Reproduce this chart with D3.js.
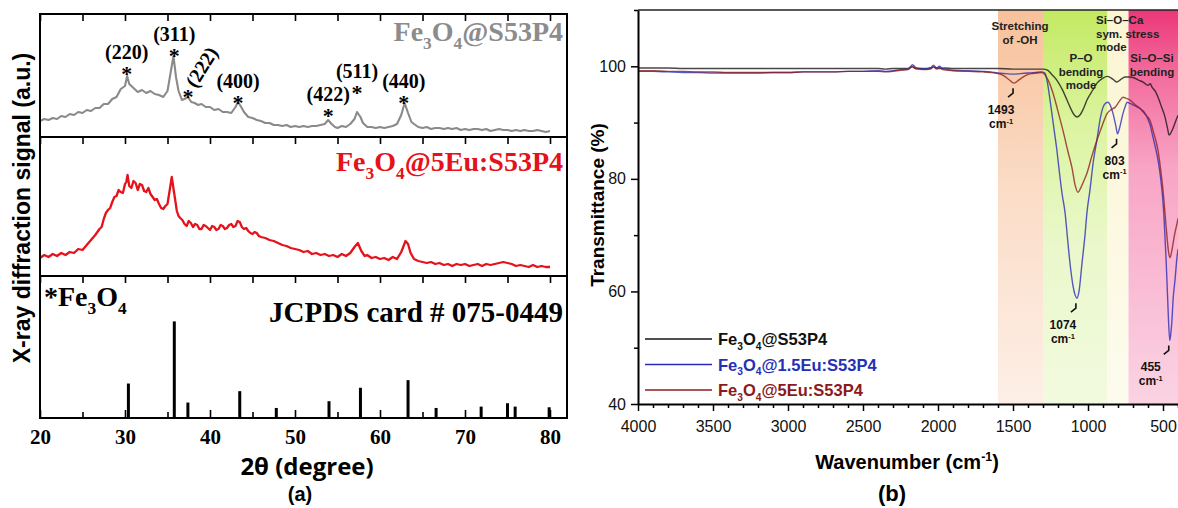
<!DOCTYPE html>
<html><head><meta charset="utf-8">
<script src="https://cdn.jsdelivr.net/npm/d3@7"></script>
<style>body{margin:0;background:#fff}svg{display:block}</style>
</head><body>
<svg id="c" width="1178" height="508"></svg>
<script>
// ---------------- DATA ----------------
// (a) XRD, 2theta (deg) vs intensity (a.u.)
const xrdTicks = [20, 30, 40, 50, 60, 70, 80];
const graySample = [[20,16],[20.5,18],[21,17],[21.5,19],[22,18],[22.5,21],[23,20],[23.5,23],[24,22],[24.5,25],[25,24],[25.5,27],[26,26],[26.5,29],[27,29],[27.5,33],[28,33],[28.5,38],[29,40],[29.5,48],[30,51],[30.25,61],[30.5,53],[31,49],[31.5,45],[32,47],[32.5,44],[33,46],[33.5,43],[34,42],[34.5,40],[35,46],[35.4,66],[35.7,81],[36,60],[36.3,46],[36.7,37],[37,38],[37.4,40],[37.8,35],[38.2,34],[38.6,32],[39,33],[39.5,30],[40,30],[40.5,27],[41,28],[41.5,25],[42,25],[42.5,24],[43,30],[43.3,35],[43.6,31],[44,25],[44.5,20],[45,19],[45.5,17],[46,16],[46.5,14],[47,14],[47.5,12],[48,12],[48.5,11],[49,12],[49.5,10],[50,11],[50.5,10],[51,11],[51.5,10],[52,11],[52.5,11],[53,12],[53.5,13],[53.9,17],[54.3,13],[54.7,10],[55,9],[55.5,11],[56,10],[56.5,13],[57,18],[57.3,25],[57.7,20],[58,14],[58.5,10],[59,10],[59.5,9],[60,10],[60.5,9],[61,10],[61.5,11],[62,13],[62.5,22],[62.9,34],[63.3,24],[63.7,15],[64,13],[64.5,10],[65,9],[65.5,10],[66,8],[66.5,9],[67,9],[67.5,8],[68,9],[68.5,8],[69,9],[69.5,7],[70,8],[70.5,7],[71,8],[71.5,8],[72,7],[72.5,8],[73,6],[73.5,7],[74,8],[74.5,7],[75,7],[75.5,6],[76,7],[76.5,6],[77,7],[77.5,6],[78,6],[78.5,7],[79,6],[79.5,5],[80,6]];
const redSample = [[20,18],[20.5,21],[21,19],[21.5,22],[22,20],[22.5,23],[23,21],[23.5,24],[24,23],[24.5,27],[25,26],[25.5,31],[26,36],[26.5,41],[27,47],[27.25,49],[27.5,57],[27.75,63],[28,66],[28.25,68],[28.5,74],[28.75,79],[29,80],[29.25,86],[29.5,84],[29.75,83],[30,92],[30.15,94],[30.3,101],[30.5,90],[30.75,88],[31,95],[31.25,93],[31.5,86],[31.75,92],[32,91],[32.25,85],[32.5,84],[32.75,88],[33,82],[33.25,79],[33.5,76],[33.75,77],[34,72],[34.25,68],[34.5,67],[34.75,70],[35,72],[35.3,88],[35.5,99],[35.8,82],[36.1,65],[36.3,60],[36.5,58],[36.75,56],[37,52],[37.25,50],[37.5,55],[37.75,53],[38,49],[38.25,52],[38.5,51],[38.75,47],[39,47],[39.25,51],[39.5,50],[39.75,48],[40,46],[40.25,50],[40.5,49],[40.75,46],[41,47],[41.25,51],[41.5,50],[41.75,47],[42,48],[42.25,51],[42.5,52],[42.75,49],[43,50],[43.25,55],[43.5,54],[43.75,49],[44,47],[44.25,48],[44.5,45],[44.75,43],[45,42],[45.25,44],[45.5,43],[45.75,40],[46,39],[46.5,38],[47,36],[47.5,35],[48,33],[48.5,31],[49,30],[49.5,28],[50,27],[50.5,26],[51,24],[51.5,25],[52,22],[52.5,23],[53,21],[53.5,22],[54,20],[54.5,21],[55,19],[55.5,22],[56,20],[56.5,23],[57,29],[57.4,33],[57.8,25],[58.2,20],[58.5,21],[59,18],[59.5,19],[60,17],[60.5,18],[61,16],[61.5,19],[62,17],[62.5,24],[63,35],[63.3,32],[63.6,23],[64,17],[64.5,15],[65,14],[65.5,13],[66,14],[66.5,12],[67,13],[67.5,11],[68,12],[68.5,10],[69,12],[69.5,11],[70,12],[70.5,10],[71,11],[71.5,12],[72,10],[72.5,12],[73,11],[73.5,12],[74,13],[74.5,14],[75,13],[75.5,12],[76,10],[76.5,11],[77,10],[77.5,9],[78,11],[78.5,9],[79,10],[79.5,9],[80,9]];
const jcpdsAngles = [30.4, 35.8, 37.4, 43.5, 47.8, 54.0, 57.7, 63.3, 66.6, 71.9, 75.0, 75.9, 79.9];
const jcpdsIntensity = [35.7, 100, 16, 27.8, 10.4, 17.4, 31.3, 39.2, 10.4, 11.8, 15.3, 11.8, 11.1];
const peakHkl = ['(220)', '(311)', '(222)', '(400)', '(422)', '(511)', '(440)'];
const peakAngle = [30.2, 35.8, 37.4, 43.3, 53.9, 57.3, 62.8];
const peakStarLevel = [69, 87, 46, 40, 27, 50, 40];

// (b) FTIR, wavenumber (cm-1) vs transmittance (%)
const irWaveTicks = [4000, 3500, 3000, 2500, 2000, 1500, 1000, 500];
const irTransTicks = [40, 60, 80, 100];
const irS53P4 = [[4000,99.7],[3900,99.7],[3800,99.7],[3700,99.6],[3600,99.6],[3500,99.6],[3400,99.6],[3300,99.6],[3200,99.6],[3100,99.6],[3000,99.6],[2900,99.6],[2800,99.6],[2700,99.6],[2600,99.6],[2500,99.6],[2400,99.6],[2350,99.5],[2300,99.6],[2200,99.6],[2170,99.9],[2150,99.6],[2100,99.6],[2050,99.7],[2030,99.9],[2000,99.6],[1950,99.7],[1900,99.6],[1800,99.6],[1700,99.6],[1600,99.6],[1500,99.5],[1400,99.5],[1300,99.5],[1270,99.3],[1240,98.5],[1207,97.5],[1170,95.8],[1140,94],[1110,92.2],[1090,91.3],[1073,91],[1055,91.3],[1030,92.5],[1007,94],[970,95.7],[940,97],[900,97.9],[873,98.2],[850,98],[830,97.6],[807,97.2],[785,97.6],[753,98.1],[720,98.1],[700,98],[660,97.5],[633,97.2],[600,96.6],[585,96.9],[573,96.3],[550,95.5],[533,94.5],[510,92.8],[487,91],[470,89],[460,87.8],[447,88.2],[433,89],[415,90.3],[400,91.3]];
const ir15Eu = [[4000,99.1],[3900,99.1],[3800,99.0],[3700,98.9],[3600,98.9],[3500,98.8],[3400,98.8],[3300,98.8],[3200,98.8],[3100,98.9],[3000,98.9],[2900,99.0],[2800,99.0],[2700,99.0],[2600,99.1],[2500,99.1],[2400,99.2],[2350,99.1],[2300,99.2],[2250,99.4],[2200,99.5],[2170,100.3],[2150,99.8],[2120,99.6],[2080,99.5],[2050,99.7],[2030,100.2],[2010,99.7],[1990,100.0],[1970,99.6],[1900,99.3],[1800,99.2],[1700,99.1],[1650,99.0],[1600,98.8],[1550,98.7],[1500,98.6],[1450,98.7],[1400,98.8],[1350,98.9],[1310,99.0],[1287,98.8],[1270,97],[1253,94],[1230,89.5],[1207,85],[1190,81],[1173,77.4],[1153,74],[1135,69],[1120,65],[1100,61],[1085,59.3],[1074,58.8],[1060,60],[1040,65],[1020,70],[1007,74],[987,78],[965,83],[940,87],[920,90.5],[900,92.7],[880,93.5],[867,93.6],[850,93],[833,91.6],[815,89.5],[803,88],[790,89],[767,91.6],[750,93],[740,93.6],[720,93.4],[690,93],[653,92.5],[630,92],[607,91],[585,89.5],[567,87.4],[550,85.5],[533,83.3],[520,81],[507,78],[495,74],[487,69.7],[480,66],[473,61.5],[465,56],[455,51.3],[448,52.5],[440,55],[433,58.5],[420,62],[407,66],[400,67.5]];
const ir5Eu = [[4000,99.2],[3900,99.2],[3800,99.1],[3700,99.1],[3600,99.0],[3500,99.0],[3400,98.9],[3300,98.9],[3200,98.9],[3100,98.9],[3000,98.9],[2900,99.0],[2800,99.0],[2700,99.0],[2600,99.1],[2500,99.1],[2400,99.1],[2350,99.0],[2300,99.1],[2250,99.3],[2200,99.4],[2170,100.0],[2150,99.6],[2100,99.4],[2050,99.5],[2030,99.9],[2010,99.5],[1990,99.8],[1970,99.4],[1900,99.2],[1800,99.1],[1700,99.0],[1650,98.9],[1600,98.7],[1560,98.3],[1530,97.7],[1493,97.0],[1460,97.6],[1420,98.3],[1380,98.7],[1340,98.8],[1310,98.9],[1290,98.6],[1265,97.5],[1233,95.2],[1200,92],[1167,88.6],[1135,85],[1107,82],[1085,78.8],[1067,77.6],[1050,78.3],[1030,79.5],[1007,81],[975,84],[940,86.9],[905,89.5],[873,91.6],[845,92.3],[820,92.7],[790,93.8],[767,94.5],[745,94.3],[720,94],[690,93.3],[653,92.5],[620,91.5],[587,90.4],[560,88],[533,85],[515,81.5],[500,78],[487,74],[473,69.6],[463,67],[453,66],[443,67],[433,68.5],[420,70.5],[407,72],[400,73]];
const bandEdges = [1600, 1300, 870, 730, 400];
const bandText = [['Stretching', 'of -OH'], ['P–O', 'bending', 'mode'], ['Si–O–Ca', 'sym. stress', 'mode'], ['Si–O–Si', 'bending']];
const irPeakWave = [1493, 1074, 803, 455];
const irPeakTrans = [97.0, 58.8, 88, 51.3];

// ---------------- DRAW ----------------
const svg = d3.select('#c');
const SERIF = '"Liberation Serif","Times New Roman",serif';
const SANS = '"Liberation Sans",Arial,sans-serif';
const OPEN = '"Open Sans","Liberation Sans",sans-serif';

function rich(g, x, y, parts, o) {
  const t = g.append('text').attr('x', x).attr('y', y)
    .attr('font-family', o.family).attr('font-size', o.size)
    .attr('font-weight', o.weight || 'bold').attr('fill', o.fill || '#000')
    .attr('text-anchor', o.anchor || 'start');
  if (o.transform) t.attr('transform', o.transform);
  let shift = 0;
  parts.forEach(p => {
    const s = Array.isArray(p) ? p[0] : p, kind = Array.isArray(p) ? p[1] : null;
    const ts = t.append('tspan').text(s);
    let target = 0, fs = o.size;
    if (kind === 'sub') { target = o.size * 0.28; fs = o.size * 0.62; }
    if (kind === 'sup') { target = -o.size * 0.38; fs = o.size * 0.62; }
    ts.attr('font-size', fs);
    if (target !== shift) { ts.attr('dy', target - shift); shift = target; }
  });
  return t;
}

// ===== Panel (a) =====
const ga = svg.append('g');
const xX = d3.scaleLinear().domain([20, 82]).range([40, 567]);
const panels = [{t: 14, b: 137}, {t: 137, b: 276}, {t: 276, b: 418}];
const yTop = d3.scaleLinear().domain([0, 123]).range([panels[0].b, panels[0].t]);
const yMid = d3.scaleLinear().domain([0, 139]).range([panels[1].b, panels[1].t]);
const yBot = d3.scaleLinear().domain([0, 147]).range([panels[2].b, panels[2].t]);

ga.append('path').datum(graySample)
  .attr('d', d3.line().x(d => xX(d[0])).y(d => yTop(d[1])))
  .attr('fill', 'none').attr('stroke', '#8a8a8a').attr('stroke-width', 2.1).attr('stroke-linejoin', 'round');
ga.append('path').datum(redSample)
  .attr('d', d3.line().x(d => xX(d[0])).y(d => yMid(d[1])))
  .attr('fill', 'none').attr('stroke', '#e5121b').attr('stroke-width', 2.3).attr('stroke-linejoin', 'round');
ga.selectAll('line.bar').data(jcpdsAngles).enter().append('line')
  .attr('x1', d => xX(d)).attr('x2', d => xX(d))
  .attr('y1', yBot(0)).attr('y2', (d, i) => yBot(jcpdsIntensity[i]))
  .attr('stroke', '#000').attr('stroke-width', 3);

// ticks at top of each panel (inward)
panels.forEach(p => {
  const ax = ga.append('g').attr('transform', `translate(0,${p.t})`)
    .call(d3.axisTop(xX).tickValues(d3.range(20, 81, 5)).tickSizeInner(-7).tickSizeOuter(0).tickFormat(''));
  ax.select('.domain').remove();
  ax.selectAll('line').attr('stroke-width', 1.6);
});
// bottom axis
const bx = ga.append('g').attr('transform', `translate(0,${panels[2].b})`)
  .call(d3.axisBottom(xX).tickValues(xrdTicks).tickSizeInner(-8).tickSizeOuter(0));
bx.select('.domain').remove();
bx.selectAll('line').attr('stroke-width', 1.6);
bx.selectAll('text').attr('y', 26).attr('dy', 0).attr('font-family', SERIF)
  .attr('font-size', 21).attr('font-weight', 'bold').attr('fill', '#000');
const bxm = ga.append('g').attr('transform', `translate(0,${panels[2].b})`)
  .call(d3.axisBottom(xX).tickValues(d3.range(25, 80, 10)).tickSizeInner(-6).tickSizeOuter(0).tickFormat(''));
bxm.select('.domain').remove();
bxm.selectAll('line').attr('stroke-width', 1.6);

// frame
ga.append('rect').attr('x', 40).attr('y', 14).attr('width', 527).attr('height', 404)
  .attr('fill', 'none').attr('stroke', '#000').attr('stroke-width', 2);
[137, 276].forEach(y => ga.append('line').attr('x1', 40).attr('x2', 567).attr('y1', y).attr('y2', y)
  .attr('stroke', '#000').attr('stroke-width', 2));

// panel texts
rich(ga, 563, 41, ['Fe', ['3', 'sub'], 'O', ['4', 'sub'], '@S53P4'], {family: SERIF, size: 28, fill: '#8c8c8c', anchor: 'end'});
rich(ga, 563, 171, ['Fe', ['3', 'sub'], 'O', ['4', 'sub'], '@5Eu:S53P4'], {family: SERIF, size: 28, fill: '#e5121b', anchor: 'end'});
rich(ga, 44, 306, ['*Fe', ['3', 'sub'], 'O', ['4', 'sub']], {family: SERIF, size: 28});
rich(ga, 563, 322, ['JCPDS card # 075-0449'], {family: SERIF, size: 29, anchor: 'end'});

// peak labels
peakHkl.forEach((h, i) => {
  const x = xX(peakAngle[i]), yc = yTop(peakStarLevel[i]);
  ga.append('text').attr('x', x).attr('y', yc + 13).attr('text-anchor', 'middle')
    .attr('font-family', SERIF).attr('font-weight', 'bold').attr('font-size', 22).text('*');
  if (h === '(222)') {
    ga.append('text').attr('transform', `translate(${x + 8},${yc - 2}) rotate(-58)`)
      .attr('font-family', SERIF).attr('font-weight', 'bold').attr('font-size', 20).text(h);
  } else {
    ga.append('text').attr('x', x).attr('y', yc - 9).attr('text-anchor', 'middle')
      .attr('font-family', SERIF).attr('font-weight', 'bold').attr('font-size', 20).text(h);
  }
});

// axis titles
rich(ga, 0, 0, ['X-ray diffraction signal (a.u.)'], {family: SANS, size: 23, anchor: 'middle', transform: 'translate(30,208) rotate(-90)'});
ga.append('text').attr('x', 307).attr('y', 475).attr('text-anchor', 'middle')
  .attr('font-family', OPEN).attr('font-weight', 'bold').attr('font-size', 24).text('2θ (degree)');
ga.append('text').attr('x', 300).attr('y', 501).attr('text-anchor', 'middle')
  .attr('font-family', SANS).attr('font-weight', 'bold').attr('font-size', 20).text('(a)');

// ===== Panel (b) =====
const gb = svg.append('g');
const xW = d3.scaleLinear().domain([4000, 400]).range([638, 1178]);
const yT = d3.scaleLinear().domain([40, 110]).range([404, 10]);

const defs = svg.append('defs');
const gradStops = [
  [[0, '#f7c19a'], [0.45, '#fbdcc6'], [1, '#fdefe7']],
  [[0, '#c3ea62'], [0.3, '#dcf4a2'], [0.6, '#eaf8cb'], [1, '#f2fadf']],
  [[0, '#fbf5d2'], [1, '#fdfbee']],
  [[0, '#ec3778'], [0.15, '#f2689a'], [0.4, '#f8a5c5'], [1, '#fbd3e3']]
];
gradStops.forEach((st, i) => {
  const lg = defs.append('linearGradient').attr('id', 'band' + i).attr('x1', 0).attr('x2', 0).attr('y1', 0).attr('y2', 1);
  st.forEach(s => lg.append('stop').attr('offset', s[0]).attr('stop-color', s[1]));
});
defs.append('clipPath').attr('id', 'irclip').append('rect').attr('x', 638).attr('y', 10).attr('width', 540).attr('height', 394);

for (let i = 0; i < bandEdges.length - 1; i++) {
  gb.append('rect').attr('x', xW(bandEdges[i])).attr('y', yT(110))
    .attr('width', xW(bandEdges[i + 1]) - xW(bandEdges[i])).attr('height', yT(40) - yT(110))
    .attr('fill', `url(#band${i})`);
}

const irLine = d3.line().x(d => xW(d[0])).y(d => yT(d[1])).curve(d3.curveMonotoneX);
const irSeries = [
  {data: irS53P4, color: '#151515'},
  {data: ir15Eu, color: '#2a2ab8'},
  {data: ir5Eu, color: '#8e1c1c'}
];
const cg = gb.append('g').attr('clip-path', 'url(#irclip)');
irSeries.forEach(s => cg.append('path').datum(s.data).attr('d', irLine)
  .attr('fill', 'none').attr('stroke', s.color).attr('stroke-width', 1.4).attr('stroke-opacity', 0.78));

// band labels
const bandLayout = [
  {x: 1020, y: 30, anchor: 'middle'},
  {x: 1081, y: 62, anchor: 'middle'},
  {x: 1096, y: 24, anchor: 'start'},
  {x: 1152, y: 62, anchor: 'middle'}
];
bandText.forEach((lines, i) => {
  lines.forEach((ln, j) => gb.append('text').attr('x', bandLayout[i].x).attr('y', bandLayout[i].y + j * 13.5)
    .attr('text-anchor', bandLayout[i].anchor).attr('font-family', SANS).attr('font-weight', 'bold')
    .attr('font-size', 11.5).attr('fill', '#222').text(ln));
});

// peak annotations
const annOff = [{dx: -13}, {dx: -14}, {dx: -3}, {dx: -19}];
irPeakWave.forEach((w, i) => {
  const px = xW(w), py = yT(irPeakTrans[i]);
  gb.append('path').attr('d', `M${px - 1},${py + 5} L${px - 1},${py + 10} L${px - 6},${py + 14}`)
    .attr('fill', 'none').attr('stroke', '#111').attr('stroke-width', 1.6);
  const tx = px + annOff[i].dx;
  gb.append('text').attr('x', tx).attr('y', py + 31).attr('text-anchor', 'middle')
    .attr('font-family', SANS).attr('font-weight', 'bold').attr('font-size', 12).attr('fill', '#111').text(w);
  rich(gb, tx, py + 45, ['cm', ['-1', 'sup']], {family: SANS, size: 12, anchor: 'middle', fill: '#111'});
});

// axes
const xa = gb.append('g').attr('transform', `translate(0,${yT(40)})`)
  .call(d3.axisBottom(xW).tickValues(irWaveTicks).tickFormat(d3.format('d')).tickSizeInner(7).tickSizeOuter(0));
xa.select('.domain').attr('stroke-width', 2);
xa.selectAll('line').attr('stroke-width', 1.5);
xa.selectAll('text').attr('y', 28).attr('dy', 0).attr('font-family', SANS).attr('font-size', 16).attr('fill', '#111');
const xam = gb.append('g').attr('transform', `translate(0,${yT(40)})`)
  .call(d3.axisBottom(xW).tickValues(d3.range(4000, 399, -100).filter(v => v % 500 !== 0)).tickSizeInner(4).tickSizeOuter(0).tickFormat(''));
xam.select('.domain').remove();
xam.selectAll('line').attr('stroke-width', 1.5);

const ya = gb.append('g').attr('transform', `translate(${xW(4000)},0)`)
  .call(d3.axisLeft(yT).tickValues(irTransTicks).tickSizeInner(7).tickSizeOuter(0).tickPadding(5));
ya.select('.domain').attr('stroke-width', 2);
ya.selectAll('line').attr('stroke-width', 1.5);
ya.selectAll('text').attr('font-family', SANS).attr('font-size', 16).attr('fill', '#111');
const yam = gb.append('g').attr('transform', `translate(${xW(4000)},0)`)
  .call(d3.axisLeft(yT).tickValues([50, 70, 90, 110]).tickSizeInner(4).tickSizeOuter(0).tickFormat(''));
yam.select('.domain').remove();
yam.selectAll('line').attr('stroke-width', 1.5);
gb.append('line').attr('x1', xW(4000)).attr('x2', xW(400)).attr('y1', yT(110)).attr('y2', yT(110))
  .attr('stroke', '#222').attr('stroke-width', 1.5);

// legend
const legend = [
  {parts: ['Fe', ['3', 'sub'], 'O', ['4', 'sub'], '@S53P4'], color: '#151515', text: '#111'},
  {parts: ['Fe', ['3', 'sub'], 'O', ['4', 'sub'], '@1.5Eu:S53P4'], color: '#2a2ab8', text: '#2530b5'},
  {parts: ['Fe', ['3', 'sub'], 'O', ['4', 'sub'], '@5Eu:S53P4'], color: '#8e1c1c', text: '#8b1a1a'}
];
legend.forEach((l, i) => {
  const y = 339 + i * 25.5;
  gb.append('line').attr('x1', 645).attr('x2', 712).attr('y1', y).attr('y2', y)
    .attr('stroke', l.color).attr('stroke-width', 1.6);
  rich(gb, 718, y + 6, l.parts, {family: SANS, size: 16.5, fill: l.text});
});

rich(gb, 0, 0, ['Transmittance (%)'], {family: SANS, size: 19, anchor: 'middle', transform: 'translate(604,205) rotate(-90)'});
rich(gb, 907, 469, ['Wavenumber (cm', ['-1', 'sup'], ')'], {family: SANS, size: 20, anchor: 'middle'});
gb.append('text').attr('x', 892).attr('y', 501).attr('text-anchor', 'middle')
  .attr('font-family', SANS).attr('font-weight', 'bold').attr('font-size', 22).text('(b)');
</script>
</body></html>
